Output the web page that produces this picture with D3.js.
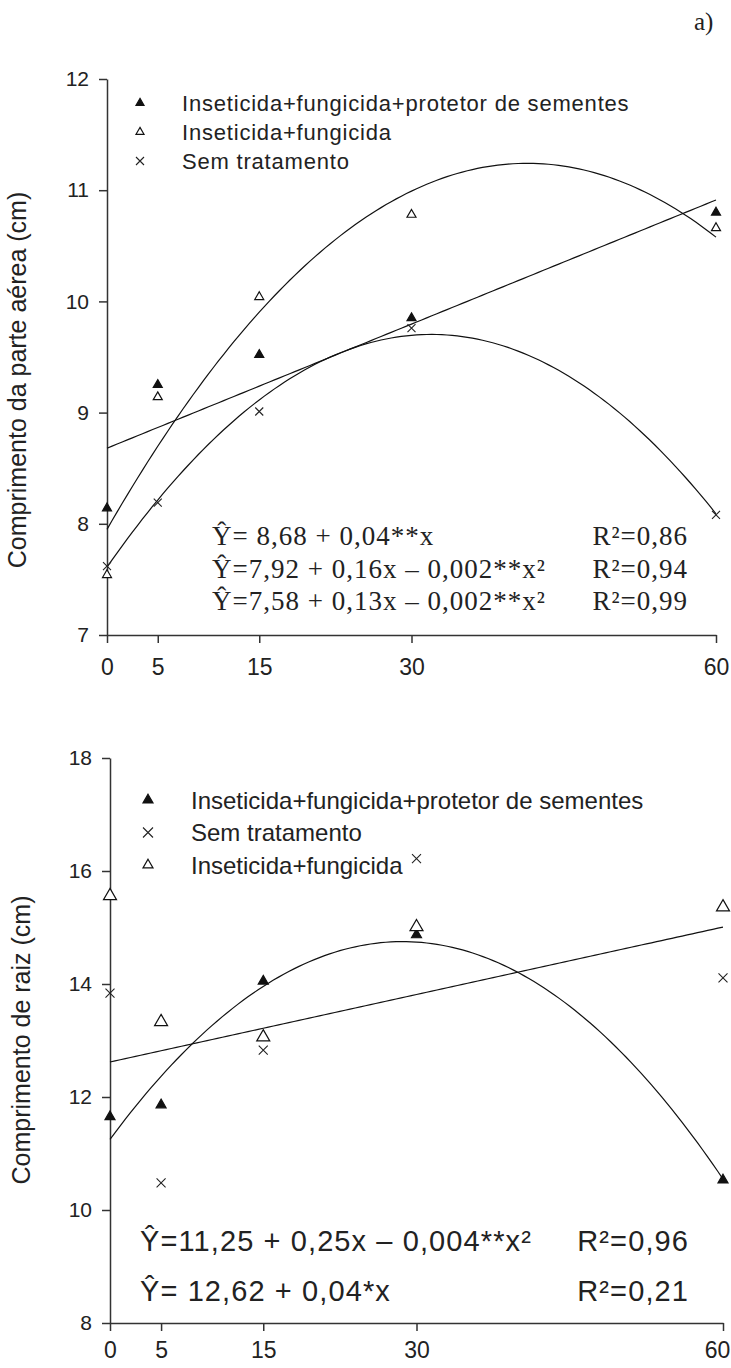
<!DOCTYPE html>
<html>
<head>
<meta charset="utf-8">
<script src="https://cdn.jsdelivr.net/npm/d3@7"></script>
<style>
  html, body { margin: 0; padding: 0; background: #fff; }
  svg { display: block; }
  .sans { font-family: "Liberation Sans", Arial, sans-serif; fill: #222; }
  .serif { font-family: "Liberation Serif", "Times New Roman", serif; fill: #222; }
</style>
</head>
<body>
<div id="chart"></div>
<script>
// doses (x) and tick labels
const doses = [0, 5, 15, 30, 60];
const xTicks = [0, 5, 15, 30, 60];

// a) shoot length (cm)
const aereaYTicks = [7, 8, 9, 10, 11, 12];
const aereaProtetor = [8.14, 9.25, 9.52, 9.85, 10.80];
const aereaFungicida = [7.54, 9.14, 10.04, 10.78, 10.66];
const aereaSem = [7.62, 8.19, 9.01, 9.76, 8.08];
// fitted curves: y = c + b*x + a*x^2
const aereaFits = [
    {c: 8.68, b: 0.0372, a: 0},
    {c: 7.95, b: 0.159, a: -0.00192},
    {c: 7.61, b: 0.131, a: -0.00205}
];
const aereaEquations = ["Ŷ= 8,68 + 0,04**x", "Ŷ=7,92 + 0,16x – 0,002**x²", "Ŷ=7,58 + 0,13x – 0,002**x²"];
const aereaR2 = ["R²=0,86", "R²=0,94", "R²=0,99"];
const aereaLegend = ["Inseticida+fungicida+protetor de sementes", "Inseticida+fungicida", "Sem tratamento"];

// root length (cm)
const raizYTicks = [8, 10, 12, 14, 16, 18];
const raizProtetor = [11.65, 11.86, 14.05, 14.87, 10.53];
const raizSem = [13.84, 10.48, 12.83, 16.22, 14.11];
const raizFungicida = [15.56, 13.33, 13.06, 15.01, 15.36];
const raizFits = [
    {c: 11.25, b: 0.2445, a: -0.00427},
    {c: 12.62, b: 0.0398, a: 0}
];
const raizEquations = ["Ŷ=11,25 + 0,25x – 0,004**x²", "Ŷ= 12,62 + 0,04*x"];
const raizR2 = ["R²=0,96", "R²=0,21"];
const raizLegend = ["Inseticida+fungicida+protetor de sementes", "Sem tratamento", "Inseticida+fungicida"];

const W = 731, H = 1368;
const svg = d3.select("#chart").append("svg")
    .attr("width", W).attr("height", H)
    .attr("viewBox", `0 0 ${W} ${H}`);

function drawMarker(g, type, x, y, size) {
    if (type === "cross") {
        const s = size / 2;
        g.append("path")
            .attr("d", `M${x - s},${y - s}L${x + s},${y + s}M${x + s},${y - s}L${x - s},${y + s}`)
            .attr("stroke", "#222").attr("stroke-width", 1.1).attr("fill", "none");
    } else {
        const area = size * size * Math.sqrt(3) / 4;
        g.append("path")
            .attr("d", d3.symbol().type(d3.symbolTriangle).size(area)())
            .attr("transform", `translate(${x},${y})`)
            .attr("fill", type === "filled" ? "#111" : "#fff")
            .attr("stroke", "#111")
            .attr("stroke-width", 1.2);
    }
}

function createPanel(opts) {
    const g = svg.append("g");
    const x = d3.scaleLinear().domain([0, 60]).range([opts.left, opts.right]);
    const y = d3.scaleLinear().domain(opts.yDomain).range([opts.bottom, opts.top]);

    // axes
    const yAxis = g.append("g")
        .attr("transform", `translate(${opts.left},0)`)
        .call(d3.axisLeft(y).tickValues(opts.yTicks).tickFormat(d3.format("d"))
            .tickSize(8).tickSizeOuter(0).tickPadding(10));
    yAxis.selectAll("text").attr("class", "sans").style("font-size", opts.yTickFont + "px");

    const xAxis = g.append("g")
        .attr("transform", `translate(0,${opts.bottom})`)
        .call(d3.axisBottom(x).tickValues(xTicks).tickFormat(d3.format("d"))
            .tickSize(8).tickSizeOuter(0).tickPadding(opts.xTickPad));
    xAxis.selectAll("text").attr("class", "sans").style("font-size", opts.xTickFont + "px");
    // last label sits on the right edge; nudge it inside
    xAxis.selectAll(".tick text").filter(d => d === 60).attr("dx", opts.lastTickDx);

    g.selectAll(".domain, .tick line").attr("stroke", "#333").attr("stroke-width", 1.5);

    // axis title
    g.append("text")
        .attr("class", "sans")
        .attr("transform", `translate(${opts.titleX},${opts.titleY}) rotate(-90)`)
        .attr("text-anchor", "middle")
        .style("font-size", opts.titleFont + "px")
        .text(opts.title);

    // fitted curves
    const line = d3.line().x(d => x(d[0])).y(d => y(d[1]));
    opts.fits.forEach(f => {
        const pts = d3.range(0, 60.01, 0.5).map(v => [v, f.c + f.b * v + f.a * v * v]);
        g.append("path")
            .attr("d", line(pts))
            .attr("fill", "none")
            .attr("stroke", "#111")
            .attr("stroke-width", 1.2);
    });

    // points
    opts.series.forEach(s => {
        s.values.forEach((v, i) => drawMarker(g, s.type, x(doses[i]), y(v), s.size));
    });

    // legend
    opts.legend.forEach((lab, i) => {
        const ly = opts.legendY + i * opts.legendStep;
        drawMarker(g, opts.legendTypes[i], opts.legendMarkX, ly, opts.legendMarkSize);
        g.append("text")
            .attr("class", "sans")
            .attr("x", opts.legendTextX)
            .attr("y", ly)
            .attr("dy", "0.36em")
            .style("font-size", opts.legendFont + "px")
            .style("letter-spacing", opts.legendSpacing + "px")
            .text(lab);
    });

    // equations
    opts.equations.forEach((eq, i) => {
        const by = opts.eqY + i * opts.eqStep;
        g.append("text")
            .attr("class", opts.eqClass)
            .attr("x", opts.eqX)
            .attr("y", by)
            .style("font-size", opts.eqFont + "px")
            .style("letter-spacing", opts.eqSpacing + "px")
            .text(eq);
        g.append("text")
            .attr("class", opts.eqClass)
            .attr("x", opts.r2X)
            .attr("y", by)
            .attr("text-anchor", "end")
            .style("font-size", opts.eqFont + "px")
            .style("letter-spacing", opts.eqSpacing + "px")
            .text(opts.r2[i]);
    });
}

createPanel({
    left: 107, right: 716, top: 79, bottom: 635,
    yDomain: [7, 12], yTicks: aereaYTicks,
    yTickFont: 21, xTickFont: 23, xTickPad: 16, lastTickDx: 0,
    title: "Comprimento da parte aérea (cm)", titleX: 26, titleY: 380, titleFont: 25,
    fits: aereaFits,
    series: [
        {type: "filled", values: aereaProtetor, size: 9},
        {type: "open", values: aereaFungicida, size: 9},
        {type: "cross", values: aereaSem, size: 8}
    ],
    legend: aereaLegend, legendTypes: ["filled", "open", "cross"],
    legendY: 103, legendStep: 29, legendMarkX: 140, legendMarkSize: 8,
    legendTextX: 182, legendFont: 22, legendSpacing: 0.8,
    equations: aereaEquations, r2: aereaR2,
    eqClass: "serif", eqX: 212, eqY: 545, eqStep: 32.5, eqFont: 27, eqSpacing: 1, r2X: 688
});

createPanel({
    left: 110, right: 723, top: 758, bottom: 1323,
    yDomain: [8, 18], yTicks: raizYTicks,
    yTickFont: 21, xTickFont: 23, xTickPad: 11, lastTickDx: -6,
    title: "Comprimento de raiz (cm)", titleX: 30, titleY: 1040, titleFont: 25,
    fits: raizFits,
    series: [
        {type: "filled", values: raizProtetor, size: 10},
        {type: "cross", values: raizSem, size: 9},
        {type: "open", values: raizFungicida, size: 13}
    ],
    legend: raizLegend, legendTypes: ["filled", "cross", "open"],
    legendY: 800, legendStep: 32.5, legendMarkX: 148, legendMarkSize: 10,
    legendTextX: 191, legendFont: 24, legendSpacing: 0,
    equations: raizEquations, r2: raizR2,
    eqClass: "sans", eqX: 140, eqY: 1251, eqStep: 50, eqFont: 29, eqSpacing: 1.1, r2X: 689
});

// panel tag
svg.append("text")
    .attr("class", "serif")
    .attr("x", 694)
    .attr("y", 30)
    .style("font-size", "25px")
    .text("a)");
</script>
</body>
</html>
